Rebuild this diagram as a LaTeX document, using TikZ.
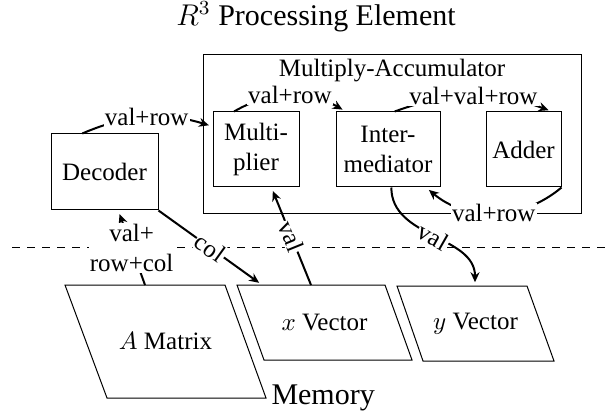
\documentclass[tikz,border=0pt]{standalone}
\usepackage{fontspec}
\setmainfont{Liberation Serif}
\usetikzlibrary{shapes.geometric, arrows.meta, positioning}

\begin{document}
\begin{tikzpicture}[
    x=0.4pt, y=0.4pt,
    unit/.style={rectangle, draw, inner sep=2pt, align=center},
    arrow/.style={-{Stealth[length=4pt, width=3.6pt]}, thick, shorten >=1.5pt},
    tag/.style={fill=white, inner sep=0.5pt, align=center}
]
    \useasboundingbox (0,0) rectangle (611,413);

    % TITLE
    \node (title) at (316,396) {\large $R^3$ Processing Element};

    % BOUNDARY BETWEEN PE AND MEMORY
    \coordinate (divl) at (12,166);
    \coordinate (divr) at (611,166);
    \draw [dashed] (divl) -- (divr);

    % MULTIPLY-ACCUMULATOR
    \node (mac) [unit, minimum width=151.2pt, minimum height=63.2pt] at (392,279) {};
    \node (maclbl) [anchor=north, inner sep=1.5pt] at (mac.north) {Multiply-Accumulator};

    \node (mult) [unit, minimum width=34.4pt, minimum height=30pt] at (256,263.5) {Multi-\\plier};
    \node (inter) [unit, minimum width=41.6pt, minimum height=30pt] at (388,263.5) {Inter-\\mediator};
    \node (adder) [unit, minimum width=30pt, minimum height=30pt] at (523.5,263.5) {Adder};

    % DECODER
    \node (dec) [unit, minimum width=42.8pt, minimum height=30.4pt] at (104.5,241) {Decoder};

    % MEMORY (slanted blocks)
    \draw (65,128) -- coordinate (amat-top) (225,128) -- (266,15) coordinate (amat-br) -- (107,15) -- cycle;
    \draw (237,128) -- coordinate[pos=0.17] (xvec-in) coordinate (xvec-top) (385,128) -- (412,53) -- (264,53) -- cycle;
    \draw (397,127) -- coordinate[pos=0.6] (yvec-in) (527,127) -- (554,52) -- (423,52) -- cycle;

    \node (amat) at (165.5,71.5) {$A$ Matrix};
    \node (xvec) at (324.5,90.5) {$x$ Vector};
    \node (yvec) at (475.5,89.5) {$y$ Vector};
    \node (memlbl) [anchor=west, inner sep=2pt, font=\large] at (amat-br) {Memory};

    % DATA PATHS
    \draw [arrow] (dec.120) to[bend left=20] node[tag] {val+row} (mult.152);
    \draw [arrow] (mult.120) to[bend left=30] node[tag] {val+row} (inter.138);
    \draw [arrow] (inter.80) to[bend left=20] node[tag] {val+val+row} (adder.53);
    \draw [arrow] (adder.-45) to[bend left=40] node[tag] {val+row} (inter.-45);

    \draw [arrow] (amat-top) -- node[tag] {val+\\row+col} (dec);
    \draw [arrow] (dec.south east) -- node[tag, sloped] {col} (xvec-in);
    \draw [arrow] (xvec-top) -- node[tag, sloped] {val} (mult);
    \draw [arrow] (inter.-85) to[out=-90, in=90] node[tag, sloped] {val} (yvec-in);

\end{tikzpicture}
\end{document}
